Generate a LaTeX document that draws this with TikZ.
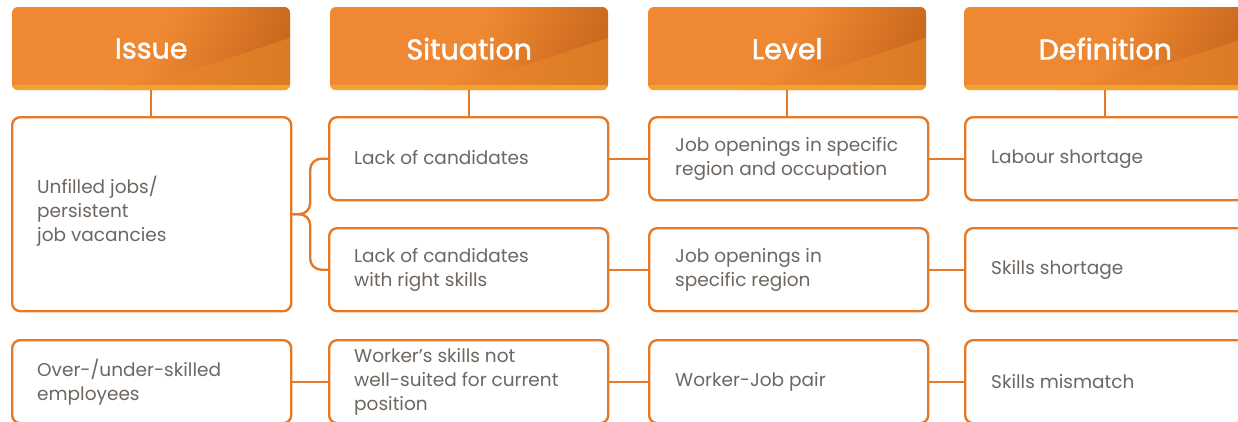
\documentclass[tikz,border=0pt]{standalone}
\usepackage{fontspec}
\setmainfont{Poppins}
\newfontfamily\hdrfont{Poppins}[FakeBold=1.6]
\usetikzlibrary{calc}
\definecolor{hdr}{RGB}{238,136,50}
\definecolor{hdrdark}{RGB}{180,82,14}
\definecolor{hdrlow}{RGB}{220,122,36}
\definecolor{stripe}{RGB}{241,162,48}
\definecolor{edge}{RGB}{228,122,40}
\definecolor{txt}{RGB}{110,102,96}
\pgfdeclarehorizontalshading{swoosh}{100bp}{color(0bp)=(hdr); color(38bp)=(hdr); color(100bp)=(hdrdark)}
\tikzset{
  hdrnode/.style={inner sep=0pt, minimum height=83pt, anchor=north west, text=white, font=\hdrfont\fontsize{28.5}{32}\selectfont},
  boxnode/.style={draw=edge, line width=2.4pt, rounded corners=8pt, fill=white, inner sep=0pt, minimum height=83pt, minimum width=279pt, anchor=north west},
  boxtext/.style={anchor=west, align=left, inner sep=0pt, text=txt, font=\fontsize{18.5}{24}\selectfont},
  conn/.style={draw=edge, line width=2.4pt},
}
% #1 name, #2 left x, #3 right x, #4 text
\newcommand{\myheader}[4]{%
  \begin{scope}
    \clip[rounded corners=6pt] (#2,7) rectangle (#3,90);
    \fill[hdr] (#2,7) rectangle (#3,90);
    \shade[shading=swoosh, shading angle=-25] (#2+95,90) .. controls (#2+170,76) and (#3-60,58) .. (#3,38) -- (#3,0) -- (#2+95,0) -- cycle;
    \shade[left color=hdr, right color=hdrlow] (#2+95,90) .. controls (#2+170,76) and (#3-60,58) .. (#3,38) -- (#3,90) -- cycle;
    \fill[stripe] (#2,85) rectangle (#3,95);
  \end{scope}
  \node[hdrnode, minimum width={(#3-#2)*1pt}] (#1) at (#2,7) {\raisebox{-3pt}{#4}};
}
\begin{document}
\begin{tikzpicture}[x=1pt,y=-1pt]
\useasboundingbox (0,0) rectangle (1238,421);
\clip (0,0) rectangle (1238,421);
\fill[white] (0,0) rectangle (1238,421);

\myheader{h1}{12}{290}{Issue}
\myheader{h2}{330}{608}{Situation}
\myheader{h3}{648}{926}{Level}
\myheader{h4}{964}{1246}{Definition}

% boxes
\node[boxnode, minimum height=194pt] (b11) at (11,116) {};
\node[boxnode] (b13) at (11,339) {};
\node[boxnode] (b21) at (328,116) {};
\node[boxnode] (b22) at (328,227) {};
\node[boxnode] (b23) at (328,339) {};
\node[boxnode] (b31) at (648,116) {};
\node[boxnode] (b32) at (648,227) {};
\node[boxnode] (b33) at (648,339) {};
\node[boxnode, minimum width=282pt] (b41) at (964,116) {};
\node[boxnode, minimum width=282pt] (b42) at (964,227) {};
\node[boxnode, minimum width=282pt] (b43) at (964,339) {};

% texts
\node[boxtext] (t11) at ([xshift=26pt,yshift=3pt]b11.west) {Unfilled jobs/\\persistent\\job vacancies};
\node[boxtext] (t13) at ([xshift=26pt]b13.west) {Over-/under-skilled\\employees};
\node[boxtext] (t21) at ([xshift=26pt,yshift=1pt]b21.west) {Lack of candidates};
\node[boxtext] (t22) at ([xshift=26pt]b22.west) {Lack of candidates\\with right skills};
\node[boxtext] (t23) at ([xshift=26pt]b23.west) {Worker’s skills not\\well-suited for current\\position};
\node[boxtext] (t31) at ([xshift=27pt]b31.west) {Job openings in specific\\region and occupation};
\node[boxtext] (t32) at ([xshift=27pt]b32.west) {Job openings in\\specific region};
\node[boxtext] (t33) at ([xshift=27pt]b33.west) {Worker-Job pair};
\node[boxtext] (t41) at ([xshift=27pt]b41.west) {Labour shortage};
\node[boxtext] (t42) at ([xshift=27pt]b42.west) {Skills shortage};
\node[boxtext] (t43) at ([xshift=27pt]b43.west) {Skills mismatch};

% header connectors
\draw[conn] (h1.south) -- (h1.south |- b11.north);
\draw[conn] (h2.south) -- (h2.south |- b21.north);
\draw[conn] (h3.south) -- (h3.south |- b31.north);
\draw[conn] (h4.south) -- (h4.south |- b41.north);

% brace
\coordinate (bm) at ($(b11.east)!0.5!(b21.west |- b11.east)$);
\draw[conn, rounded corners=11pt] (b11.east) -- (bm) |- (b21.west);
\draw[conn, rounded corners=11pt] (b11.east) -- (bm) |- (b22.west);

% horizontal connectors
\draw[conn] (b21.east) -- (b31.west);
\draw[conn] (b31.east) -- (b41.west);
\draw[conn] (b22.east) -- (b32.west);
\draw[conn] (b32.east) -- (b42.west);
\draw[conn] (b13.east) -- (b23.west);
\draw[conn] (b23.east) -- (b33.west);
\draw[conn] (b33.east) -- (b43.west);
\end{tikzpicture}
\end{document}
